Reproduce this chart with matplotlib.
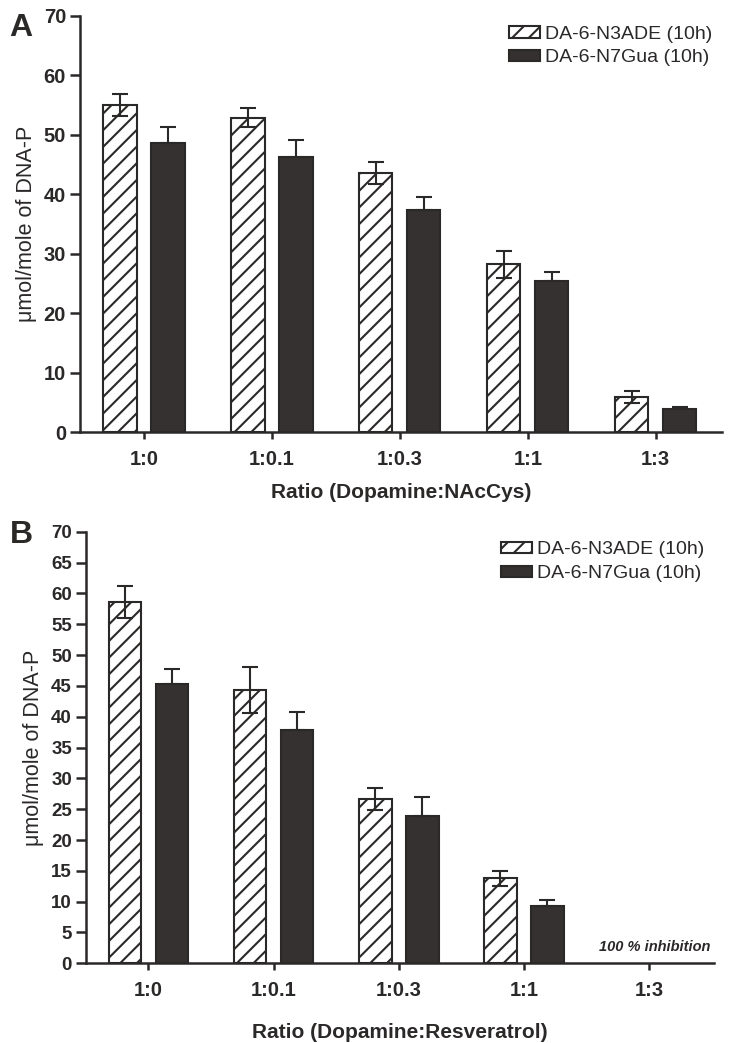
import matplotlib.pyplot as plt
import numpy as np

plt.rcParams['font.family'] = ['Liberation Sans', 'DejaVu Sans']
plt.rcParams['hatch.linewidth'] = 1.5

ink = '#2b2828'
plt.rcParams['hatch.color'] = ink

ratios = ['1:0', '1:0.1', '1:0.3', '1:1', '1:3']
series = ['DA-6-N3ADE (10h)', 'DA-6-N7Gua (10h)']

# panel A: Dopamine:NAcCys
a_n3ade = [55.0, 52.9, 43.6, 28.2, 5.9]
a_n3ade_err = [1.8, 1.6, 1.8, 2.3, 1.0]
a_n7gua = [48.6, 46.3, 37.4, 25.4, 3.8]
a_n7gua_err = [2.8, 2.8, 2.2, 1.6, 0.4]

# panel B: Dopamine:Resveratrol (1:3 -> 100 % inhibition)
b_n3ade = [58.6, 44.3, 26.6, 13.8, 0.0]
b_n3ade_err = [2.6, 3.7, 1.8, 1.2, 0.0]
b_n7gua = [45.3, 37.9, 23.9, 9.3, 0.0]
b_n7gua_err = [2.4, 2.9, 3.1, 1.0, 0.0]

fig = plt.figure(figsize=(7.34, 10.43), dpi=100)
axA = fig.add_axes([0.109, 0.5858, 0.875, 0.3989])
axB = fig.add_axes([0.117, 0.0764, 0.856, 0.4138])

x = np.arange(len(ratios))
w = 0.26
off = 0.1875


def draw(ax, h, herr, s, serr, ystep, xlabel, xpad):
    h, herr, s, serr = map(np.array, (h, herr, s, serr))
    hm = h > 0
    sm = s > 0
    ekw = dict(ecolor=ink, elinewidth=1.5, capsize=6, capthick=1.5)
    ax.bar(x[hm] - off, h[hm], w, yerr=herr[hm],
           color='white', edgecolor=ink, hatch='//', linewidth=1.5,
           error_kw=ekw, label=series[0])
    # lower whisker is hidden inside the dark bar
    ax.bar(x[sm] + off, s[sm], w, yerr=[np.zeros(sm.sum()), serr[sm]],
           color='#353131', edgecolor=ink, linewidth=1.5,
           error_kw=ekw, label=series[1])
    ax.set_xlim(-0.5, 4.52)
    ax.set_ylim(0, 70)
    ax.set_yticks(np.arange(0, 71, ystep))
    ax.set_xticks(x)
    ax.set_xticklabels(ratios, fontsize=14.5, fontweight='bold', color=ink)
    for t in ax.get_yticklabels():
        t.set_fontsize(14.5 if ystep == 10 else 13.5)
        t.set_fontweight('bold')
        t.set_color(ink)
    for side in ['top', 'right']:
        ax.spines[side].set_visible(False)
    for side in ['left', 'bottom']:
        ax.spines[side].set_linewidth(1.8)
        ax.spines[side].set_color(ink)
    ax.tick_params(axis='y', length=7, width=1.8, color=ink, pad=3)
    ax.tick_params(axis='x', length=5, width=1.8, color=ink, pad=8)
    ax.set_ylabel('\u03bcmol/mole of DNA-P', fontsize=15.5, color=ink, labelpad=5)
    ax.set_xlabel(xlabel, fontsize=15, fontweight='bold', color=ink, labelpad=xpad)
    leg = ax.legend(loc='upper right', bbox_to_anchor=(1.0, 1.0), frameon=False,
                    fontsize=14, handlelength=1.6, handleheight=0.55,
                    handletextpad=0.25, labelspacing=0.35, borderaxespad=0.1)
    for t in leg.get_texts():
        t.set_color(ink)


draw(axA, a_n3ade, a_n3ade_err, a_n7gua, a_n7gua_err, 10, 'Ratio (Dopamine:NAcCys)', 10)
draw(axB, b_n3ade, b_n3ade_err, b_n7gua, b_n7gua_err, 5, 'Ratio (Dopamine:Resveratrol)', 16)

axB.text(4.49, 1.5, '100 % inhibition', ha='right', va='bottom', fontsize=10.5,
         fontstyle='italic', fontweight='bold', color=ink)

fig.text(0.013, 0.973, 'A', fontsize=23, fontweight='bold', color=ink, va='center')
fig.text(0.013, 0.487, 'B', fontsize=23, fontweight='bold', color=ink, va='center')

fig.savefig('out.png', dpi=100)
